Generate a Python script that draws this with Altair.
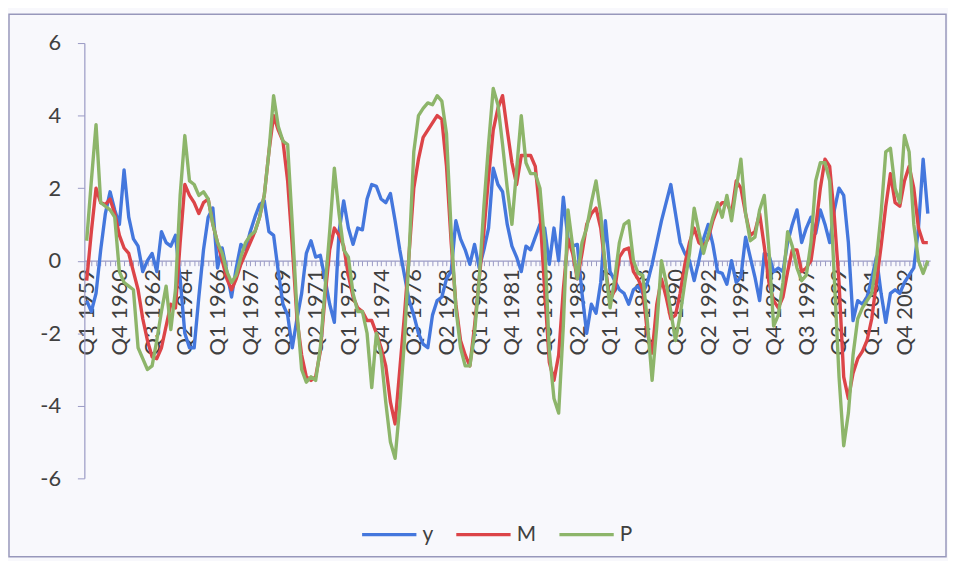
import json
import altair as alt
import pandas as pd

# ---- data ----
series_names = ["y", "M", "P"]
series_colors = ["#4477dd", "#dc4448", "#8db56a"]

y_vals = [
    -1.1, -1.4, -0.9, 0.3, 1.3, 1.9, 1.4, 1.0, 2.5, 1.2,
    0.6, 0.4, -0.3, 0.0, 0.2, -0.3, 0.8, 0.5, 0.4, 0.7,
    -0.5, -2.0, -2.4, -2.4, -1.0, 0.3, 1.2, 1.45, -0.2, 0.35,
    -0.3, -1.0, -0.2, 0.45, 0.3, 0.8, 1.2, 1.55, 1.65, 0.8,
    0.7, -0.3, -1.2, -1.5, -2.4, -1.6, -0.9, 0.2, 0.55, 0.1,
    0.15, -0.5, -1.2, -1.7, 0.8, 1.65, 0.9, 0.45, 0.9, 0.85,
    1.7, 2.1, 2.05, 1.7, 1.6, 1.85, 1.1, 0.3, -0.4, -1.1,
    -1.5, -2.0, -2.3, -2.4, -1.5, -1.1, -1.0, -0.5, -0.3, 1.1,
    0.6, 0.3, -0.1, 0.45, -0.2, 0.3, 0.9, 2.55, 2.1, 1.9,
    1.0, 0.4, 0.1, -0.3, 0.4, 0.3, 0.65, 1.0, 0.9, -0.1,
    0.9, 0.0, 1.75, 0.6, 0.4, 0.45, -0.9, -2.0, -1.2, -1.45,
    -0.6, 1.1, -0.3, -0.55, -0.8, -0.9, -1.2, -0.8, -0.7, -0.9,
    -0.6, -0.1, 0.5, 1.1, 1.6, 2.1, 1.3, 0.5, 0.2, 0.0,
    -0.55, 0.0, 0.6, 1.0, 0.45, -0.3, -0.35, -0.65, 0.0, -0.6,
    -0.45, 0.65, 0.1, -0.45, -1.1, 0.2, 0.15, -0.3, -0.2, -0.3,
    0.5, 1.0, 1.4, 0.5, 0.9, 1.2, 0.75, 1.4, 1.0, 0.5,
    1.4, 2.0, 1.8, 0.5, -1.65, -1.1, -1.2, -1.0, -0.5, 0.1,
    -0.9, -1.7, -0.9, -0.8, -0.9, -0.6, -0.4, -0.2, 0.9, 2.8, 1.3,
]

m_vals = [
    -0.55, 0.8, 2.0, 1.6, 1.55, 1.7, 1.3, 0.7, 0.35, 0.2,
    -0.3, -0.8, -1.6, -2.2, -2.65, -2.7, -2.4, -1.8, -1.2, -1.3,
    0.5, 2.1, 1.8, 1.6, 1.3, 1.6, 1.7, 1.0, 0.5, 0.0,
    -0.5, -0.8, -0.5, -0.1, 0.2, 0.5, 0.8, 1.2, 1.8, 3.0,
    4.0, 3.6, 3.3, 2.2, 0.4, -1.6, -2.6, -3.2, -3.3, -3.2,
    -2.5, -1.0, 0.3, 0.9, 0.7, 0.4, -0.4, -1.0, -1.3, -1.4,
    -1.65, -1.65, -2.0, -2.4, -2.9, -3.9, -4.5, -3.0, -1.5, 0.2,
    2.0, 2.8, 3.4, 3.6, 3.8, 4.0, 3.9, 2.6, 0.5, -1.2,
    -2.2, -2.6, -2.9, -1.8, -0.5, 0.8, 2.3, 3.6, 4.2, 4.55,
    3.6, 2.7, 2.1, 2.9, 2.9, 2.9, 2.6, 1.3, -0.8, -2.8,
    -3.3, -2.6, -0.8, 0.6, 0.2, -0.5, 0.2, 1.0, 1.3, 1.45,
    0.9, -0.2, -1.1, -0.8, 0.1, 0.3, 0.35, -0.3, -0.5, -0.8,
    -2.0, -2.55, -1.2, -0.5, -1.0, -1.6, -1.5, -0.9, -0.1, 0.5,
    0.9, 0.5, 0.4, 0.6, 1.1, 1.45, 1.6, 1.6, 1.3, 2.2,
    2.0, 1.3, 0.7, 0.8, 1.3, 0.4, -0.6, -1.1, -1.3, -1.0,
    -0.3, 0.3, 0.3, -0.3, -0.2, 0.0, 0.9, 2.0, 2.8, 2.6,
    1.2, -0.6, -3.2, -3.8, -3.1, -2.7, -2.5, -2.2, -1.6, -0.6,
    0.4, 1.5, 2.4, 1.6, 1.5, 2.2, 2.6, 2.0, 0.9, 0.5, 0.5,
]

p_vals = [
    0.55, 2.2, 3.75, 1.6, 1.5, 1.4, 1.2, -0.3, -0.6, -0.7,
    -0.8, -2.4, -2.7, -3.0, -2.9, -2.2, -1.4, -0.7, -1.9, -0.8,
    1.8, 3.45, 2.2, 2.1, 1.8, 1.9, 1.7, 1.0, 0.5, 0.2,
    -0.3, -0.6, -0.4, 0.1, 0.5, 0.7, 0.8, 1.2, 1.8, 3.0,
    4.55, 3.7, 3.3, 3.2, 1.0, -1.4, -3.0, -3.35, -3.2, -3.3,
    -2.4, -0.8, 0.8, 2.55, 1.3, 0.3, 0.1, -0.9, -1.4, -1.4,
    -2.0, -3.5, -2.0, -2.6, -3.9, -5.0, -5.45, -4.0, -2.2, 0.2,
    3.0, 4.0, 4.2, 4.35, 4.3, 4.55, 4.4, 3.5, 0.8, -1.3,
    -2.4, -2.9, -2.9, -2.0, -0.5, 1.5, 3.2, 4.75, 4.3, 3.2,
    2.0, 1.0, 2.5, 4.0, 2.7, 2.4, 2.4, 2.0, 0.5, -2.5,
    -3.8, -4.2, -1.8, 1.4, 0.4, -0.5, 0.5, 0.9, 1.6, 2.2,
    1.3, -0.2, -1.3, -0.5, 0.5, 1.0, 1.1, 0.0, -0.35, -0.4,
    -1.7, -3.3, -1.8, 0.0, -0.6, -1.4, -2.2, -1.5, -0.6, 0.2,
    1.45, 0.8, 0.2, 0.7, 1.2, 1.6, 1.2, 1.8, 1.1, 2.0,
    2.8, 1.3, 0.55, 0.65, 1.4, 1.8, 0.3, -1.8, -1.5, -0.6,
    0.8, 0.4, -0.2, -0.55, -0.4, 0.5, 2.2, 2.7, 2.7, 2.2,
    -0.5, -3.2, -5.1, -4.2, -2.6, -1.6, -1.3, -1.1, -0.9, 0.0,
    1.3, 3.0, 3.1, 2.0, 1.6, 3.45, 3.0, 1.0, 0.0, -0.35, 0.0,
]

tick_labels = [
    "Q1 1959", "Q4 1960", "Q3 1962", "Q2 1964", "Q1 1966", "Q4 1967",
    "Q3 1969", "Q2 1971", "Q1 1973", "Q4 1974", "Q3 1976", "Q2 1978",
    "Q1 1980", "Q4 1981", "Q3 1983", "Q2 1985", "Q1 1987", "Q4 1988",
    "Q3 1990", "Q2 1992", "Q1 1994", "Q4 1995", "Q3 1997", "Q2 1999",
    "Q1 2001", "Q4 2002",
]
label_step = 7
y_ticks = [-6, -4, -2, 0, 2, 4, 6]

# ---- table ----
rows = []
for name, vals in zip(series_names, [y_vals, m_vals, p_vals]):
    for i, v in enumerate(vals):
        rows.append({"idx": i, "value": v, "series": name})
df = pd.DataFrame(rows)
n = len(y_vals)

W, H = 853, 439
PAD_L, PAD_T, PAD_R, PAD_B = 77, 33, 18, 81
AXIS_COL = "#9a9ac4"
FONT = "Lato"

label_expr = (
    f"datum.value % {label_step} == 0 ? "
    f"{json.dumps(tick_labels)}[datum.value / {label_step}] : ''"
)

x_enc = alt.X(
    "idx:Q",
    scale=alt.Scale(domain=[-0.5, n - 0.5], nice=False, zero=False),
    axis=alt.Axis(
        values=list(range(n)),
        labelExpr=label_expr,
        labelAngle=-90,
        labelOverlap=False,
        labelFlush=False,
        tickSize=5,
        labelPadding=3,
        offset=-H / 2,
        title=None,
        grid=False,
    ),
)
y_enc = alt.Y(
    "value:Q",
    scale=alt.Scale(domain=[-6, 6], nice=False),
    axis=alt.Axis(
        values=y_ticks,
        labelExpr="'' + datum.value",
        tickSize=7,
        labelPadding=17,
        title=None,
        grid=False,
    ),
)
color_enc = alt.Color(
    "series:N",
    scale=alt.Scale(domain=series_names, range=series_colors),
    legend=alt.Legend(
        orient="none",
        legendX=278,
        legendY=466,
        direction="horizontal",
        symbolType="stroke",
        symbolSize=3000,
        symbolStrokeWidth=3.5,
        labelFontSize=21,
        labelFont=FONT,
        labelColor="#404040",
        columnPadding=16,
        labelOffset=4,
        padding=0,
        title=None,
    ),
)

frame = alt.Chart(pd.DataFrame({"k": [0]})).mark_rect(
    filled=False, stroke="#9898bb", strokeWidth=1.5
).encode(
    x=alt.value(-PAD_L + 1),
    x2=alt.value(W + PAD_R - 2),
    y=alt.value(-PAD_T + 4),
    y2=alt.value(H + PAD_B - 2),
)

layers = [frame]
for name in series_names:
    layers.append(
        alt.Chart(df)
        .transform_filter(alt.datum.series == name)
        .mark_line(strokeWidth=3.4, strokeJoin="round")
        .encode(x=x_enc, y=y_enc, color=color_enc)
    )

chart = (
    alt.layer(*layers)
    .properties(
        width=W,
        height=H,
        padding={"left": PAD_L, "top": PAD_T, "right": PAD_R, "bottom": PAD_B},
        autosize=alt.AutoSizeParams(type="none"),
    )
    .configure(background="#f8f8fc")
    .configure_view(strokeWidth=0)
    .configure_axis(
        domainColor=AXIS_COL,
        tickColor=AXIS_COL,
        domainWidth=1.2,
        labelFont=FONT,
        labelFontSize=22,
        labelColor="#404040",
    )
)

chart.save("out.html", embed_options={"renderer": "svg", "actions": False})
